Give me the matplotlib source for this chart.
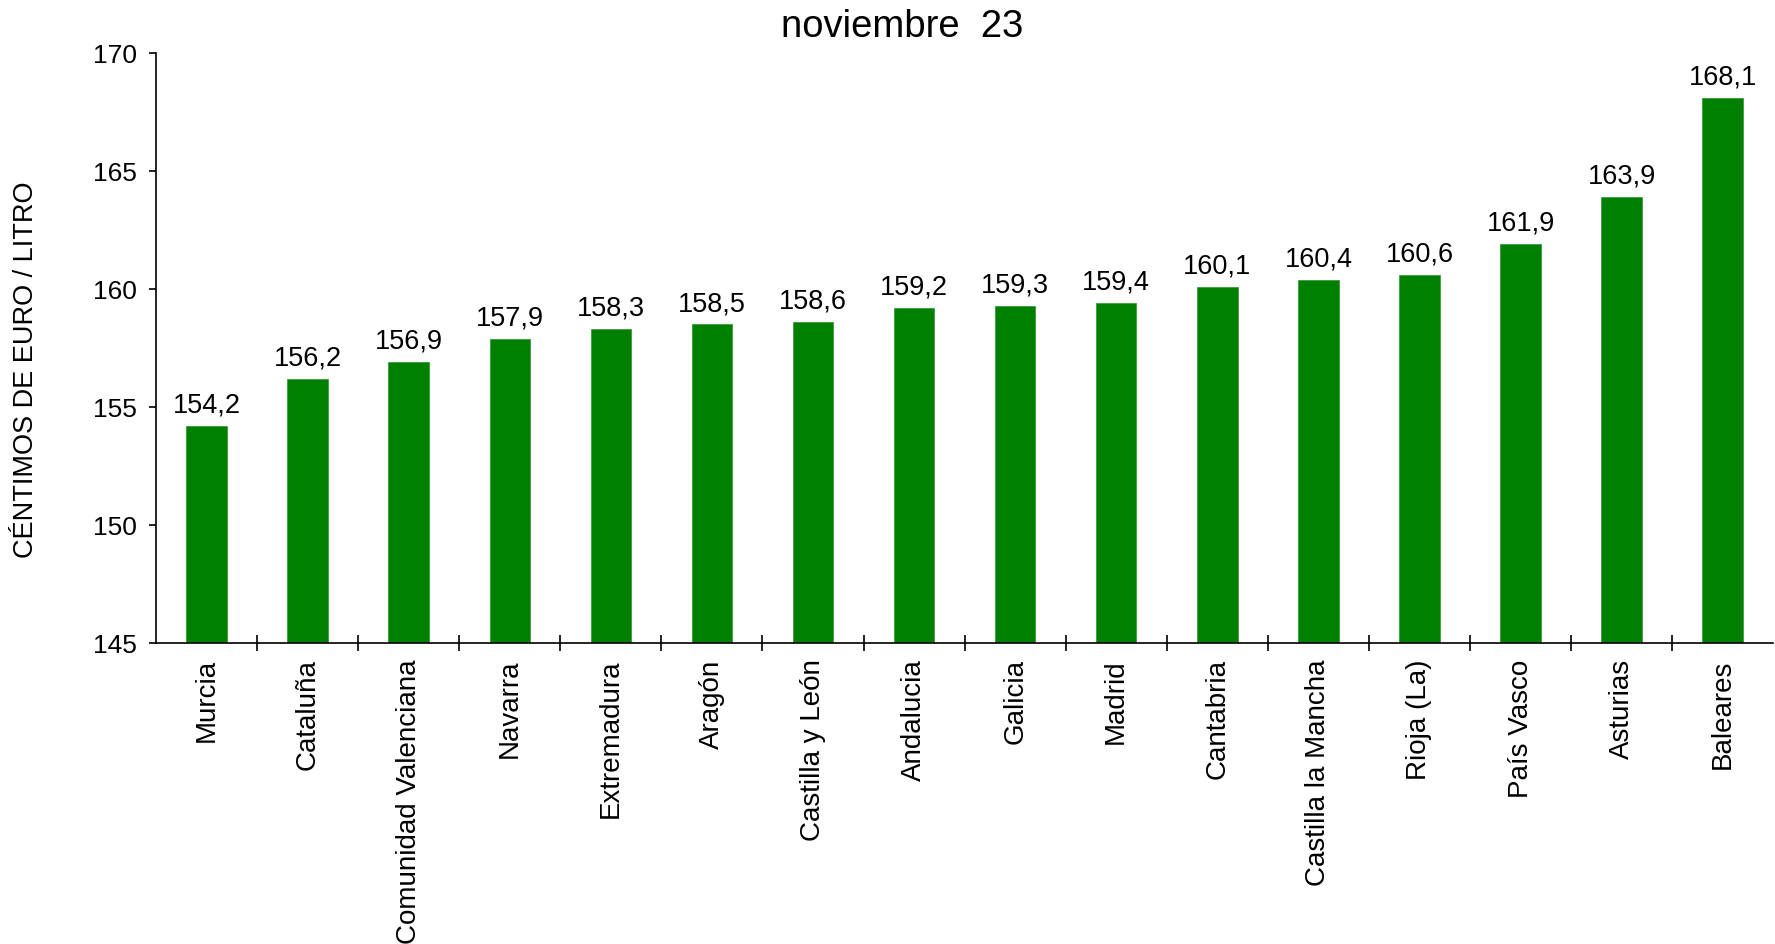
import numpy as np
import matplotlib.pyplot as plt
from matplotlib.ticker import FixedLocator

plt.rcParams['font.family'] = ['Liberation Sans', 'DejaVu Sans']

regiones = ["Murcia", "Cataluña", "Comunidad Valenciana", "Navarra", "Extremadura",
            "Aragón", "Castilla y León", "Andalucia", "Galicia", "Madrid",
            "Cantabria", "Castilla la Mancha", "Rioja (La)", "País Vasco",
            "Asturias", "Baleares"]
precios = [154.2, 156.2, 156.9, 157.9, 158.3, 158.5, 158.6, 159.2, 159.3, 159.4,
           160.1, 160.4, 160.6, 161.9, 163.9, 168.1]
y_ticks = [145, 150, 155, 160, 165, 170]

fig = plt.figure(figsize=(17.75, 9.45), dpi=100)
ax = fig.add_axes([156 / 1775, 1 - 644 / 945, 1 - 156 / 1775 - 0.001, (644 - 54) / 945])

x = np.arange(len(regiones))
ax.bar(x, [p - 145 for p in precios], bottom=145, width=0.4, color='#008000',
       edgecolor='#3c9c3c', linewidth=0.6)

for xi, p in zip(x, precios):
    ax.text(xi, p + 0.35, f"{p:.1f}".replace('.', ','), ha='center', va='bottom', fontsize=19.5)

ax.set_xlim(-0.5, len(regiones) - 0.5)
ax.set_ylim(145, 170)
ax.set_yticks(y_ticks)
ax.set_xticks(x)
ax.set_xticklabels(regiones, rotation=90, fontsize=20)
ax.xaxis.set_minor_locator(FixedLocator(np.arange(0.5, len(regiones) - 0.5, 1)))
ax.tick_params(axis='x', which='major', length=0, pad=11)
ax.tick_params(axis='x', which='minor', direction='inout', length=11, width=1.2)
ax.tick_params(axis='y', direction='out', length=5, width=1.2, labelsize=19, pad=9)

for s in ['top', 'right']:
    ax.spines[s].set_visible(False)
for s in ['left', 'bottom']:
    ax.spines[s].set_linewidth(1.2)

fig.text(902 / 1775, 1 - 27 / 945, "noviembre  23", ha='center', va='center', fontsize=27.5)
fig.text(26 / 1775, 1 - 370 / 945, "CÉNTIMOS DE EURO / LITRO", rotation=90,
         ha='center', va='center', fontsize=19.5)

fig.savefig("out.png", dpi=100)
